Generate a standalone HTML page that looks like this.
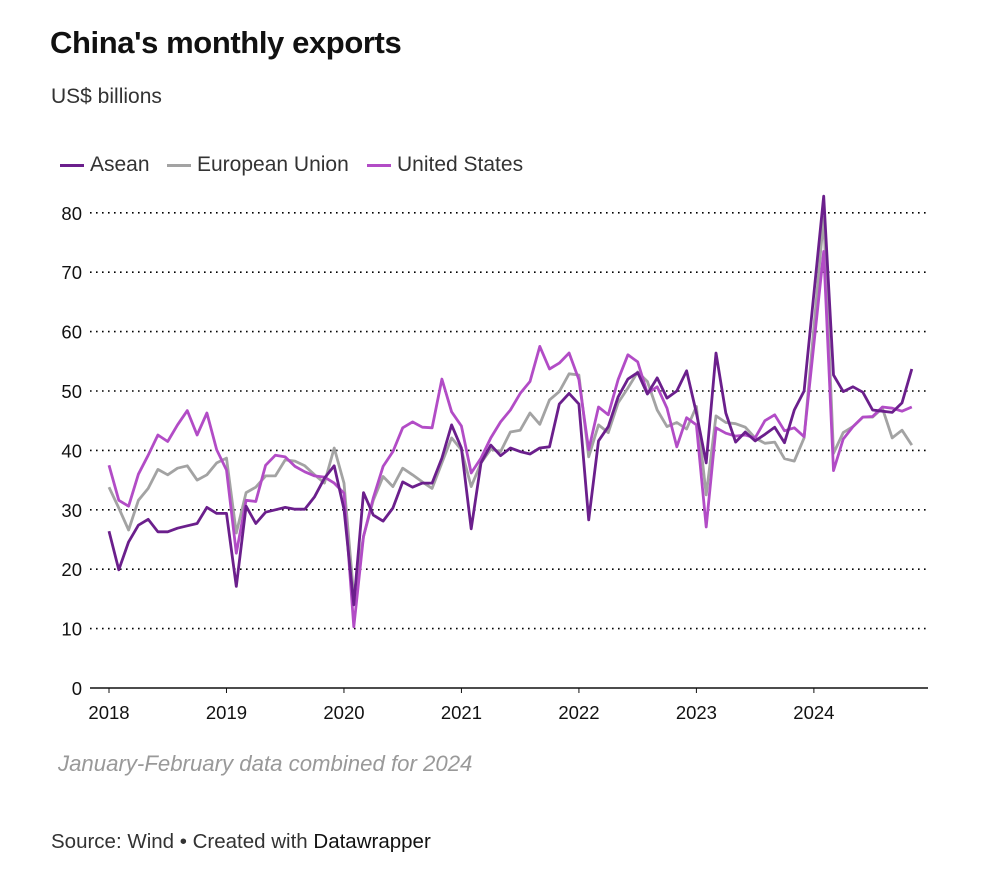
<!DOCTYPE html>
<html><head><meta charset="utf-8"><style>
body{margin:0;background:#fff;font-family:"Liberation Sans",sans-serif;}
#wrap{position:relative;width:991px;height:871px;overflow:hidden;}
.t{position:absolute;white-space:nowrap;}
</style></head><body>
<div id="wrap">
<div class="t" style="left:50px;top:25px;font-size:31px;font-weight:bold;color:#111;letter-spacing:-0.4px;">China's monthly exports</div>
<div class="t" style="left:51px;top:85px;font-size:21px;color:#333;">US$ billions</div>
<div>
<div class="t" style="left:60px;top:153px;font-size:21px;color:#333;"><span style="display:inline-block;width:24px;height:3px;background:#6b1f8c;vertical-align:middle;margin-right:6px;"></span>Asean</div>
<div class="t" style="left:167px;top:153px;font-size:21px;color:#333;"><span style="display:inline-block;width:24px;height:3px;background:#a3a3a3;vertical-align:middle;margin-right:6px;"></span>European Union</div>
<div class="t" style="left:367px;top:153px;font-size:21px;color:#333;"><span style="display:inline-block;width:24px;height:3px;background:#b24cc6;vertical-align:middle;margin-right:6px;"></span>United States</div>
</div>
<svg id="chart" width="991" height="871" style="position:absolute;left:0;top:0;"></svg>
<div class="t" style="left:58px;top:751px;font-size:22.2px;font-style:italic;color:#999;">January-February data combined for 2024</div>
<div class="t" style="left:51px;top:830px;font-size:20.5px;color:#333;">Source: Wind • Created with <span style="color:#111;">Datawrapper</span></div>
</div>
<script>
const years = ["2018","2019","2020","2021","2022","2023","2024"];
const yTicks = [0,10,20,30,40,50,60,70,80];
const asean = [26.4,19.9,24.6,27.4,28.4,26.3,26.3,26.9,27.3,27.7,30.4,29.4,
29.4,17.1,30.6,27.7,29.6,30,30.4,30.1,30.1,32.2,35.3,37.4,
30.1,14,32.9,29.1,28.1,30.3,34.7,33.8,34.5,34.5,38.7,44.3,
40.4,26.8,37.9,40.9,39.1,40.4,39.8,39.4,40.4,40.6,47.8,49.6,
47.8,28.3,41.6,44,49,52,53.1,49.5,52.2,48.8,50,53.4,
46.3,37.9,56.4,46.3,41.4,43.1,41.6,42.7,43.9,41.3,46.8,50,
null,82.8,52.7,49.9,50.7,49.8,46.8,46.6,46.4,48,53.7];
const eu = [33.8,30.3,26.6,31.6,33.6,36.8,35.9,37,37.4,35,35.9,37.9,
38.7,26.1,32.9,33.8,35.7,35.7,38.4,38.2,37.4,35.9,34.5,40.4,
34.5,15.4,25.5,31.6,35.6,33.9,37,35.9,34.7,33.6,37.9,42.1,
40.1,33.9,37.9,40.2,39.8,43.1,43.4,46.3,44.4,48.5,49.9,52.9,
52.7,38.9,44.3,43,48,50.5,53.2,51.6,46.8,44,44.7,43.6,
47.4,32.5,45.8,44.7,44.5,43.9,42.1,41.2,41.4,38.6,38.2,42.1,
null,79.3,39.5,43,44,45.6,45.6,47.1,42.1,43.4,40.9];
const us = [37.5,31.6,30.6,36,39.2,42.6,41.5,44.3,46.7,42.6,46.3,40.1,
36.7,22.7,31.6,31.4,37.5,39.2,38.9,37.3,36.4,35.7,35.5,34.5,
32.8,10.3,25.5,32,37.3,39.8,43.8,44.8,43.9,43.8,52,46.5,
44.1,36.2,38.7,42.1,44.8,46.8,49.6,51.6,57.5,53.7,54.7,56.4,
51.9,40.1,47.3,46,51.9,56.1,54.9,49.6,50.7,47.1,40.6,45.5,
44.3,27.1,43.8,42.9,42.4,42.6,42.1,45,46,43.3,43.8,42.3,
null,73.5,36.6,41.9,44,45.6,45.7,47.3,47.1,46.6,47.3];
const NS="http://www.w3.org/2000/svg";
const svg=document.getElementById('chart');
const x0=109, mw=9.79, yb=688, yk=5.94;
function xs(i){return x0+i*mw;}
function ys(v){return yb-v*yk;}
function mk(tag,attrs){const e=document.createElementNS(NS,tag);for(const k in attrs)e.setAttribute(k,attrs[k]);svg.appendChild(e);return e;}
yTicks.forEach(v=>{
  if(v>0){const g=mk('line',{x1:90,x2:930,y1:ys(v),y2:ys(v),stroke:'#000','stroke-width':1.6,'stroke-dasharray':'1.6 4.4'});
  
  }
  const t=mk('text',{x:82,y:ys(v)+7,'text-anchor':'end','font-size':18.5,fill:'#111','font-family':'Liberation Sans, sans-serif'});
  t.textContent=v;
  
  
});
const ax=mk('line',{x1:90,x2:928,y1:yb,y2:yb,stroke:'#111','stroke-width':1.5});


years.forEach((y,i)=>{
  const tk=mk('line',{x1:xs(i*12),x2:xs(i*12),y1:yb,y2:yb+5,stroke:'#111','stroke-width':1});
  
  
  const t=mk('text',{x:xs(i*12),y:719,'text-anchor':'middle','font-size':18.5,fill:'#111','font-family':'Liberation Sans, sans-serif'});
  t.textContent=y;
  
  
});
function line(data,color,name){
  let d='',pen=false;
  data.forEach((v,i)=>{if(v==null)return;d+=(pen?'L':'M')+xs(i).toFixed(1)+','+ys(v).toFixed(1);pen=true;});
  const p=mk('path',{d:d,fill:'none',stroke:color,'stroke-width':2.8,'stroke-linejoin':'round'});
  
  
}
line(eu,'#a3a3a3','line-eu');
line(us,'#b24cc6','line-us');
line(asean,'#6b1f8c','line-asean');
</script>
</body></html>
